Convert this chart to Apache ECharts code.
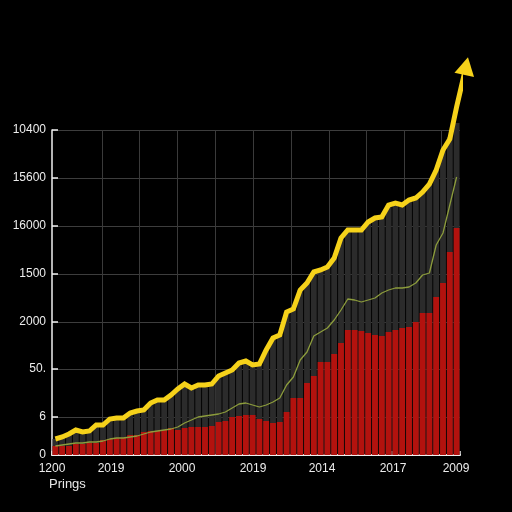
<!DOCTYPE html>
<html><head><meta charset="utf-8">
<script src="https://cdn.jsdelivr.net/npm/echarts@6/dist/echarts.min.js"></script>
<style>html,body{margin:0;padding:0;background:#000;}#c{width:512px;height:512px;}</style>
</head><body><div id="c"></div>
<script>
// ---- data ----
const redVals = [9,9,9,11,11,12,12,15,16,17,17,20,20,23,24,24,25,27,25,27,28,28,28,29,33,34,38,39,40,40,36,34,32,33,43,57,57,72,79,93,93,101,112,125,125,124,122,120,119,123,125,127,128,133,142,142,158,172,203,227];
const grayVals = [16,18,21,25,23,24,30,30,36,37,37,42,44,45,52,55,55,60,66,71,67,70,70,71,79,82,85,92,94,90,91,105,117,120,143,146,165,172,183,185,188,197,217,225,225,225,233,237,238,250,252,250,255,257,263,271,285,305,318,332];
const trendVals = [16,18,21,25,23,24,30,30,36,37,37,42,44,45,52,55,55,60,66,71,67,70,70,71,79,82,85,92,94,90,91,105,117,120,143,146,165,172,183,185,188,197,217,225,225,225,233,237,238,250,252,250,255,257,263,271,285,305,316,348];
const trendArrow = [60.9, 389];
const greenVals = [9,10,11,12,12,13,13,14,16,17,17,18,19,21,23,24,25,26,28,32,35,38,39,40,41,43,47,51,52,50,48,50,53,57,70,78,95,103,119,123,127,135,145,156,155,153,155,157,162,165,167,167,168,172,180,182,210,222,250,278];
const yTickVals = [0,38,86,133,181,229,277,325];
const yTickLabels = ["0","6","50.","2000","1500","16000","15600","10400"];
const xLabelVals = [0,8.68,19.12,29.56,39.71,50.15,59.41];
const xLabels = ["1200","2019","2000","2019","2014","2017","2009"];
const xGridVals = [7.35,12.79,18.38,23.97,29.56,35.15,40.74,46.18,51.76,57.21];
const xTickVals = [0,19.56,29.41,39.41,50,60];
const categories = redVals.map((_, i) => String(i));

const font = 'Liberation Sans, Arial, sans-serif';
const chart = echarts.init(document.getElementById('c'), null, {renderer:'canvas'});
chart.setOption({
  backgroundColor: '#000',
  animation: false,
  grid: {left: 52, right: 52, top: 130, bottom: 57, containLabel: false},
  graphic: [{type:'text', left: 49, top: 478, style:{text:'Prings', fill:'#e8e8e8', font:'13px ' + font}}],
  xAxis: [
    {type:'category', data: categories, boundaryGap: true,
     axisLine:{show:true, lineStyle:{color:'#f0f0f0', width:2}},
     axisTick:{show:false}, axisLabel:{show:false}, splitLine:{show:false}},
    {type:'value', min:0, max:60, position:'bottom',
     axisLine:{show:false},
     axisTick:{show:false, customValues: xGridVals},
     axisLabel:{show:true, customValues: xLabelVals, color:'#ececec', fontSize:12, fontFamily:font, margin:8,
       formatter: (v) => { let b=0; xLabelVals.forEach((x,i)=>{ if (Math.abs(x-v) < Math.abs(xLabelVals[b]-v)) b=i; }); return xLabels[b]; }},
     splitLine:{show:true, lineStyle:{color:'#3a3a3a', width:1}}},
    {type:'value', min:0, max:60, position:'bottom',
     axisLine:{show:false},
     axisTick:{show:true, inside:true, length:4, customValues: xTickVals, lineStyle:{color:'#f0f0f0', width:1.5}},
     axisLabel:{show:false}, splitLine:{show:false}}
  ],
  yAxis: [{type:'value', min:0, max:325,
    axisLine:{show:true, lineStyle:{color:'#f0f0f0', width:1.5}},
    axisTick:{show:true, inside:true, length:6, customValues: yTickVals, lineStyle:{color:'#f0f0f0', width:1.5}},
    axisLabel:{customValues: yTickVals, color:'#ececec', fontSize:12, fontFamily:font, margin:6,
      formatter: (v) => { let b=0; yTickVals.forEach((x,i)=>{ if (Math.abs(x-v) < Math.abs(yTickVals[b]-v)) b=i; }); return yTickLabels[b]; }},
    splitLine:{show:true, lineStyle:{color:'#3d3d3d', width:1}}
  }],
  series: [
    {type:'bar', name:'gray', xAxisIndex:0, data: grayVals, barCategoryGap:'14%', barGap:'-100%', clip:false,
     itemStyle:{color:'#2b2b2b'}, z:2},
    {type:'bar', name:'red', xAxisIndex:0, data: redVals, barCategoryGap:'14%', barGap:'-100%', clip:false,
     itemStyle:{color:'#b3120e'}, z:3},
    {type:'line', name:'green', xAxisIndex:0, data: greenVals, symbol:'none',
     lineStyle:{color:'#8c9c3c', width:1.3}, z:4},
    {type:'line', name:'trend', xAxisIndex:1, clip:false,
     data: trendVals.map((v,i)=>[i+0.5, v]).concat([{value: trendArrow, symbol:'triangle', symbolSize:[20,18], symbolRotate:-12, itemStyle:{color:'#f6d21a'}}]),
     symbol:'none', lineStyle:{color:'#f6d21a', width:5, join:'miter'}, z:5}
  ]
});
</script></body></html>
